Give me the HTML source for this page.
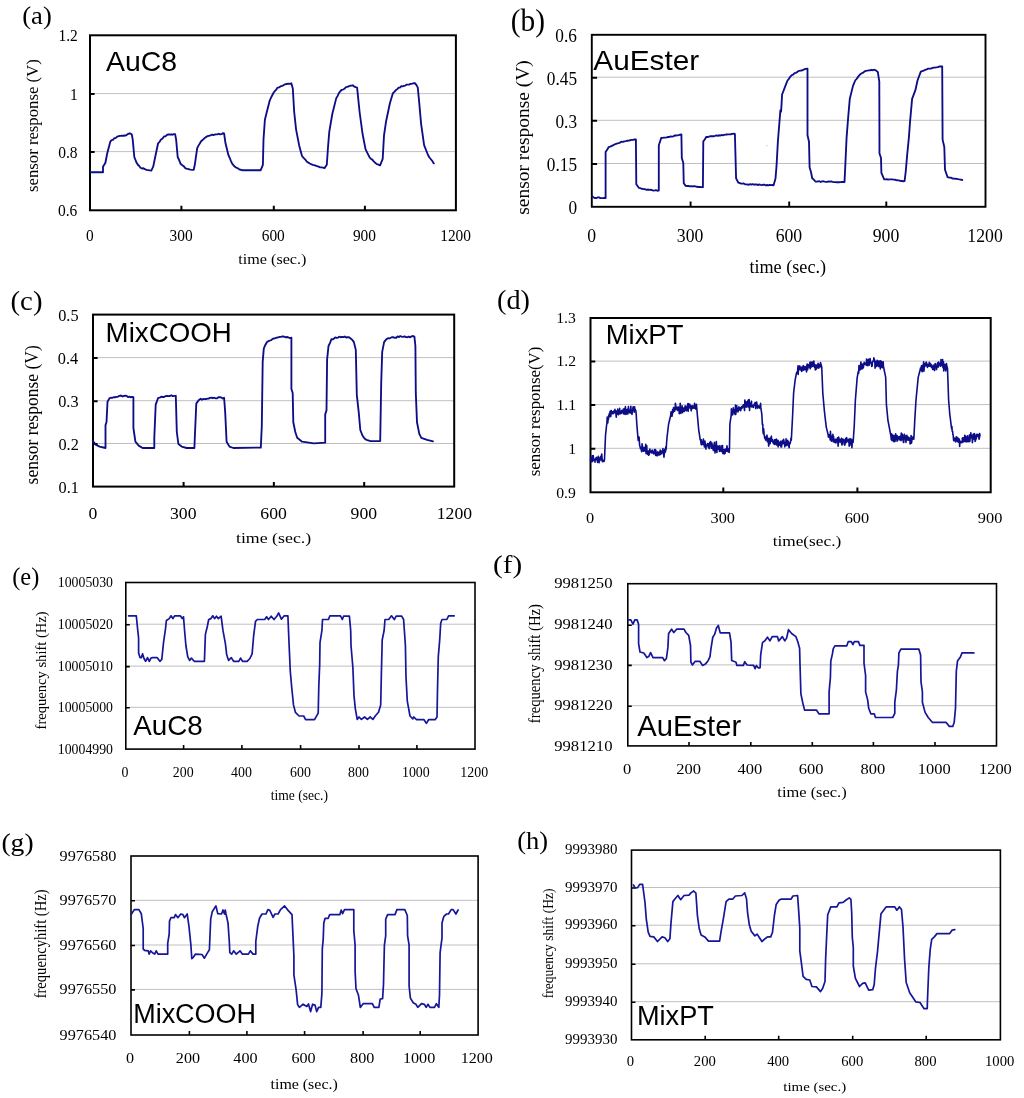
<!DOCTYPE html>
<html><head><meta charset="utf-8"><title>figure</title><style>html,body{margin:0;padding:0;background:#fff;width:1024px;height:1098px;overflow:hidden}svg{display:block}.r{font-family:"Liberation Serif",serif;fill:#000}svg{will-change:transform}.s{font-family:"Liberation Sans",sans-serif;fill:#000}.gr{stroke:#c0c0c0;stroke-width:1;fill:none}.tk{stroke:#000;fill:none}.bx{stroke:#000;fill:none}.ln{fill:none;stroke-linejoin:round;stroke-linecap:round}</style></head><body>
<svg width="1024" height="1098" viewBox="0 0 1024 1098">
<rect width="1024" height="1098" fill="#fff"/>
<path class="gr" d="M90 93.6H455.9"/>
<path class="gr" d="M90 151.6H455.9"/>
<path class="tk" stroke-width="2" d="M90 94.1h4.6M90 152.1h4.6M181.4 210.3v-4.6M273.8 210.3v-4.6M364.9 210.3v-4.6"/>
<rect class="bx" stroke-width="2" x="90" y="35.3" width="365.9" height="175"/>
<path class="ln" stroke="#0d0d88" stroke-width="1.85" d="M90.7 172.2 L103 172.2 L103 166.7 L105.4 162.8 L107.3 153 L110.3 141.7 L111.6 140.23 L112.9 139.85 L114.2 138.4 L115.8 137.86 L117.4 136.56 L119 136 L120.47 135.87 L121.95 135.7 L123.43 135.78 L124.9 135.5 L126.28 135.29 L127.65 134.09 L129.03 133.53 L130.4 133.5 L131.8 134.5 L132.7 139.4 L134.3 157 L136.6 162.8 L137.9 164.77 L139.2 166 L140.5 167.7 L141.97 168.49 L143.45 168.25 L144.93 169.22 L146.4 169.8 L151.3 170.6 L153.2 166.7 L155.2 157 L158.1 143.3 L159.57 141.8 L161.05 139.58 L162.53 138.57 L164 136.4 L165.45 136.33 L166.9 134.98 L168.35 134.5 L169.8 134.5 L171.12 134.44 L172.45 134.74 L173.78 134.08 L175.1 134.1 L176.1 139.4 L177.7 157 L179.15 160.12 L180.6 163.8 L182.23 165.22 L183.87 166.33 L185.5 168.3 L190.4 169.6 L193.7 169.8 L194.8 164.8 L197.2 148.2 L198.5 145.62 L199.8 143.54 L201.1 141.3 L202.57 140.07 L204.05 138.58 L205.53 137.36 L207 136.4 L208.3 135.8 L209.6 135.73 L210.9 135.24 L212.2 134.65 L213.5 135.15 L214.8 134.5 L216.13 134.41 L217.46 134.36 L218.79 133.76 L220.11 134.42 L221.44 134.15 L222.77 133.26 L224.1 133.5 L225.5 143.3 L228.4 155 L229.7 157.77 L231 161.09 L232.3 163.8 L233.63 165.31 L234.97 166.84 L236.3 167.7 L237.75 168.25 L239.2 169.28 L240.65 169.75 L242.1 170.2 L260.7 170.2 L262.9 164.8 L263.5 139.4 L264.9 119.8 L266.8 112 L269.8 100.3 L271.75 96.2 L273.7 92.5 L275 90.95 L276.3 89.62 L277.6 87.6 L279.05 87.37 L280.5 86.46 L281.95 85.96 L283.4 85.3 L285.03 84.3 L286.67 83.98 L288.3 83.7 L289.8 83.8 L291.3 83.3 L292.8 88.6 L294.2 112 L296.1 129.6 L299.1 145.2 L302 156 L303.63 157.85 L305.27 159.54 L306.9 161.8 L308.35 162.6 L309.8 163.5 L311.25 164.22 L312.7 164.8 L314.18 165.15 L315.65 165.69 L317.12 166.23 L318.6 166.7 L320.08 167.33 L321.55 167.42 L323.02 167.64 L324.5 168.1 L326.8 164.8 L328 147.2 L329.3 131.6 L332.3 114 L336.2 98.4 L337.5 96.09 L338.8 93.33 L340.1 91.5 L341.55 89.97 L343 89.55 L344.45 88.76 L345.9 87.2 L347.28 86.91 L348.66 86.33 L350.04 85.73 L351.42 85.68 L352.8 85.3 L354.23 86.55 L355.67 87.1 L357.1 87.6 L359.6 112 L362.5 133.5 L365.5 149.1 L367.45 153.09 L369.4 157 L370.85 158.81 L372.3 159.63 L373.75 161.36 L375.2 162.8 L376.83 164.12 L378.47 164.61 L380.1 165.4 L382.7 158.9 L384 135.5 L386 121.8 L389.9 103.2 L392.8 93.5 L394.27 91.98 L395.75 90.32 L397.23 89.12 L398.7 87.6 L400 87.57 L401.3 86.14 L402.6 86.43 L403.9 85.99 L405.2 85.57 L406.5 84.7 L407.9 84.67 L409.3 84.48 L410.7 83.92 L412.1 83.69 L413.5 83.29 L414.9 83.1 L416.35 84.91 L417.8 87.6 L419.2 102.3 L421.1 123.8 L424.1 145.2 L428 155 L429.45 157.47 L430.9 159.27 L432.35 161 L433.8 163.4"/>
<path class="gr" d="M591.8 77.2H985.5"/>
<path class="gr" d="M591.8 120.3H985.5"/>
<path class="gr" d="M591.8 163.5H985.5"/>
<path class="tk" stroke-width="1.9" d="M591.8 77.7h5.3M591.8 120.8h5.3M591.8 164h5.3M690.6 206.8v-5.3M789.2 206.8v-5.3M886.3 206.8v-5.3"/>
<rect class="bx" stroke-width="1.9" x="591.8" y="34.8" width="393.7" height="172"/>
<path class="ln" stroke="#0d0d88" stroke-width="1.85" d="M592 196 L593.9 197.6 L595.2 198.01 L596.5 198.05 L597.8 197.38 L599.1 197.45 L600.4 198.09 L601.7 198.06 L603 198.05 L604.3 197.8 L605.6 198 L605.6 152.1 L607.1 149.73 L608.6 147.2 L610.2 146.62 L611.8 145.93 L613.4 145.2 L614.72 144.34 L616.03 143.98 L617.35 143.36 L618.67 143.05 L619.98 142.68 L621.3 141.7 L622.84 141.86 L624.38 141.34 L625.92 141.06 L627.46 140.71 L629 140.7 L630.38 140.07 L631.76 139.8 L633.14 139.89 L634.52 139.51 L635.9 139.4 L636.3 184.3 L638.8 187.8 L640.1 188.04 L641.4 188.78 L642.7 188.82 L644 189.18 L645.3 189.26 L646.6 189.8 L647.96 189.5 L649.31 189.82 L650.67 189.74 L652.02 190.12 L653.38 190.59 L654.73 190.41 L656.09 190.09 L657.44 190.74 L658.8 190.5 L658.8 145.2 L661.3 137.8 L662.64 137.88 L663.98 137.67 L665.32 137.65 L666.66 137.37 L668 137 L669.33 136.98 L670.67 136.38 L672 136.63 L673.33 136.37 L674.67 135.48 L676 135.5 L677.35 135.45 L678.7 135.17 L680.05 134.72 L681.4 134.5 L681.8 157.9 L683.3 163 L683.75 183.3 L685.7 185.9 L687.1 185.98 L688.5 186.01 L689.9 186.41 L691.3 186.13 L692.7 186.45 L694.1 186.13 L695.5 186.3 L696.98 186.79 L698.46 186.98 L699.94 186.81 L701.42 187.07 L702.9 187.2 L703.3 141.3 L704.75 139.49 L706.2 137 L707.67 137 L709.13 136.62 L710.6 136.23 L712.07 136.13 L713.53 136.24 L715 135.9 L716.3 135.48 L717.6 135.92 L718.9 135.25 L720.2 135.61 L721.5 134.97 L722.8 135.33 L724.1 134.98 L725.4 134.66 L726.7 134.5 L728.07 134.41 L729.43 134.42 L730.8 134.27 L732.17 133.95 L733.53 133.77 L734.9 133.9 L736.1 178.4 L738.4 182.7 L739.72 182.98 L741.03 183.58 L742.35 183.6 L743.67 183.43 L744.98 184.29 L746.3 184.3 L747.6 184.53 L748.9 184.72 L750.2 184.2 L751.5 184.69 L752.8 184.19 L754.1 184.71 L755.4 184.45 L756.7 184.46 L758 185.03 L759.3 184.46 L760.6 184.84 L761.9 185.15 L763.2 184.71 L764.5 184.74 L765.8 185.32 L767.1 185 L768.4 185.28 L769.7 184.78 L771 185.09 L772.3 184.99 L773.6 185.3 L775.5 178.4 L776.5 166.7 L777.9 141.3 L780.4 110.1 L781.1 111.6 L782.1 94.5 L785.4 85.9 L787.5 80.5 L788.93 78.84 L790.37 76.57 L791.8 75.1 L793.15 74.66 L794.5 73.12 L795.85 72.88 L797.2 71.9 L798.8 70.97 L800.4 70.6 L802 70.5 L803.6 69.7 L805.55 68.93 L807.5 68.7 L807.5 135.3 L809 141.7 L809.6 167.5 L811 172 L812.2 178.2 L813.8 179.6 L815.4 181.5 L816.72 181.68 L818.05 181.46 L819.37 181.22 L820.69 182 L822.01 181.36 L823.34 181.29 L824.66 181.57 L825.98 181.81 L827.3 181.94 L828.63 181.46 L829.95 181.67 L831.27 181.45 L832.6 181.81 L833.92 182.09 L835.24 182.1 L836.56 182.26 L837.89 182.17 L839.21 182.28 L840.53 182.18 L841.85 182.02 L843.18 181.85 L844.5 182.1 L845.1 169.7 L846.6 137.4 L848.3 115.9 L849.8 98.8 L853 85.9 L855.2 80.5 L856.55 79 L857.9 77.1 L859.25 75.31 L860.6 74 L861.92 73.16 L863.25 72.7 L864.58 71.3 L865.9 70.8 L867.33 70.68 L868.77 70.35 L870.2 70.26 L871.63 69.78 L873.07 70.25 L874.5 69.7 L876.15 70.61 L877.8 71.9 L879.3 81.6 L879.5 153.5 L881 158 L881.4 172.9 L882.8 176.18 L884.2 179.3 L885.51 179.31 L886.82 179.07 L888.13 179.58 L889.44 179.32 L890.76 179.33 L892.07 179.39 L893.38 179.57 L894.69 179.6 L896 180 L897.43 180.27 L898.87 180.34 L900.3 180.89 L901.73 181.01 L903.17 181.23 L904.6 181 L905.7 171.8 L907.2 154.6 L908.9 137.4 L910 122.4 L912.1 98.8 L915.4 90.2 L917.5 80.5 L920.7 71.9 L922.2 71.05 L923.7 70.58 L925.2 69.78 L926.7 69.41 L928.2 68.7 L929.5 68.58 L930.8 68.5 L932.1 68.21 L933.4 67.63 L934.7 67.6 L936.2 67.32 L937.7 67.18 L939.2 66.54 L940.7 66.35 L942.2 66.5 L942.6 139.6 L944.3 147 L945 169.7 L947.6 177.2 L949.2 177.5 L950.8 177.64 L952.4 178.5 L954 178.7 L955.37 178.71 L956.73 178.81 L958.1 179.1 L959.47 179.35 L960.83 179.56 L962.2 180"/>
<path class="gr" d="M93 357.6H454.2"/>
<path class="gr" d="M93 400.7H454.2"/>
<path class="gr" d="M93 443.5H454.2"/>
<path class="tk" stroke-width="2" d="M93 358.1h4.6M93 401.2h4.6M93 444h4.6M183.6 486.6v-4.6M273.85 486.6v-4.6M364.2 486.6v-4.6"/>
<rect class="bx" stroke-width="2" x="93" y="314.6" width="361.2" height="172"/>
<path class="ln" stroke="#0d0d88" stroke-width="1.85" d="M92.8 440.7 L95.7 444.6 L99.6 446.6 L105.5 448 L105.5 425.1 L106.5 422.2 L107.5 401.7 L109.4 398.4 L110.78 397.71 L112.16 397.82 L113.54 397.26 L114.92 397.27 L116.3 396.8 L117.84 396.78 L119.38 395.79 L120.92 395.52 L122.46 396.47 L124 395.8 L125.34 395.66 L126.69 395.83 L128.03 397.09 L129.37 396.56 L130.71 397.27 L132.06 396.97 L133.4 397.2 L133.4 428 L135.4 441.7 L138.7 445.6 L142.6 448 L154.3 448 L154.3 437.8 L155.7 404.6 L158.2 397.8 L159.67 397.66 L161.13 396.64 L162.6 396.99 L164.07 396.98 L165.53 396.17 L167 395.8 L168.47 396.14 L169.93 396.04 L171.4 395.19 L172.87 396.16 L174.33 395.93 L175.8 395.8 L176.8 432 L178.4 444 L181.7 446.6 L186.6 448 L194.4 448 L194.8 437.8 L196.3 403.6 L197.8 401.37 L199.3 399.7 L200.64 398.81 L201.98 399.74 L203.31 398.95 L204.65 399.06 L205.99 399.04 L207.32 398.57 L208.66 398.63 L210 397.8 L211.41 397.65 L212.82 398.22 L214.23 397.72 L215.64 398.41 L217.05 398.33 L218.46 397.24 L219.87 397.29 L221.28 397.4 L222.69 398.45 L224.1 397.8 L225.2 412.4 L226.6 441.7 L229.5 446.6 L233.4 448 L260.8 447.6 L261.8 426.1 L262.7 361.6 L263.8 348.6 L265 345.5 L267 342 L268.5 341.16 L270 340.5 L271.33 340.01 L272.67 338.89 L274 338.5 L275.33 338.18 L276.67 337.67 L278 337.5 L279.53 336.89 L281.07 336.82 L282.6 336.3 L284.07 336.65 L285.53 337.33 L287 337 L288.47 337.49 L289.93 338.07 L291.4 337.7 L291.4 389 L292.7 393 L293.3 422.2 L295.3 432 L297.2 437.8 L302.1 441.7 L313.8 443.3 L325.2 442.7 L325.2 414.4 L326.5 410.4 L327.1 359.7 L328.5 346 L329.95 343.1 L331.4 339.2 L332.7 339.45 L334 338.57 L335.3 337.43 L336.6 337.97 L337.9 337.68 L339.2 336.6 L340.6 337.25 L342 336.87 L343.4 337.16 L344.8 336.54 L346.2 337.49 L347.6 337.22 L349 337.2 L350.63 338.53 L352.27 339.86 L353.9 342.1 L355.8 349.9 L356.8 394.8 L358.75 412.4 L360.3 430 L362.6 435.8 L363.93 437.63 L365.27 439.15 L366.6 439.8 L370.5 441.1 L380.2 441.1 L381.2 383.1 L382.2 351.9 L384.1 342.1 L386.05 339.57 L388 338.2 L389.37 338.46 L390.74 337.75 L392.11 337.23 L393.48 337.27 L394.85 337.78 L396.22 337.76 L397.59 336.44 L398.96 337.08 L400.33 336.12 L401.7 336.6 L403.11 336.91 L404.52 336.36 L405.93 337.13 L407.34 337.27 L408.76 336.61 L410.17 337.3 L411.58 336.33 L412.99 336.01 L414.4 336.6 L415.4 346 L415.8 392.9 L417 422.2 L419.3 433.9 L421.3 437.8 L427.1 439.8 L433 441.3"/>
<path class="gr" d="M590.5 361.1H990.7"/>
<path class="gr" d="M590.5 404.6H990.7"/>
<path class="gr" d="M590.5 448.3H990.7"/>
<path class="tk" stroke-width="2" d="M590.5 361.6h4.8M590.5 405.1h4.8M590.5 448.8h4.8M723.3 492.3v-4.8M857.4 492.3v-4.8"/>
<rect class="bx" stroke-width="2" x="590.5" y="318" width="400.2" height="174.3"/>
<path class="ln" stroke="#0d0d88" stroke-width="1.6" d="M590.53 458.94 L590.72 460.63 L591.02 457.45 L591.41 459.03 L591.63 461.78 L591.94 460.05 L592.25 455.83 L592.58 461.38 L592.95 455.78 L593.22 455.66 L593.62 460.17 L593.81 459.4 L594.11 460.18 L594.52 460.37 L594.79 460.72 L595.04 462.13 L595.28 458.74 L595.62 459.27 L595.94 458.52 L596.3 457.39 L596.65 457.72 L596.93 460.04 L597.2 459.61 L597.58 462.37 L597.9 459.27 L598.03 457.7 L598.34 456.28 L598.72 461.32 L599.07 462.67 L599.34 460.3 L599.67 460.85 L599.95 458.15 L600.31 457.37 L600.63 458.33 L600.76 456.29 L601.19 460.03 L601.52 455.32 L601.72 453.96 L601.97 457.04 L602.36 461.65 L602.59 460.04 L603.03 460.46 L603.26 460.64 L603.66 460.71 L603.9 461.6 L604.27 460.67 L604.5 459.5 L604.83 451.57 L605.17 443.63 L605.5 435.7 L605.85 432.27 L606.2 428.85 L606.55 425.43 L606.86 423.85 L607.2 417.17 L607.62 417.42 L607.77 422.99 L608.1 419.31 L608.46 419.18 L608.68 415.44 L609.07 415.14 L609.49 413.26 L609.77 416.8 L610.1 411.2 L610.31 413.45 L610.81 416.36 L611.13 410.52 L611.32 410.57 L611.73 413.65 L611.95 412.99 L612.24 412.51 L612.51 411.77 L612.85 412.74 L613.13 413.77 L613.6 413.3 L613.78 411.08 L614.1 411.17 L614.5 411.21 L614.84 412.77 L614.96 409.41 L615.27 412.39 L615.71 410.87 L615.88 413.22 L616.26 417.09 L616.49 412.5 L616.87 411.18 L617.26 411.51 L617.42 413.83 L617.75 409.01 L618.08 413.42 L618.44 414.79 L618.75 410.72 L619.08 412.81 L619.35 413.8 L619.64 408.18 L619.87 411.72 L620.11 413.93 L620.46 413.03 L620.85 411.57 L621.2 413.54 L621.51 410.57 L621.66 413.21 L621.97 410.59 L622.35 411.64 L622.71 412.54 L622.97 412.47 L623.3 408.97 L623.63 413.86 L623.91 412.69 L624.09 411.03 L624.52 408.5 L624.86 409.03 L625.05 414.4 L625.42 406.61 L625.61 414.02 L626.06 411.78 L626.34 411.79 L626.68 413.36 L626.92 414.11 L627.12 409.18 L627.4 413.04 L627.81 413.91 L628.2 410.18 L628.48 406.66 L628.66 412.52 L628.97 410.67 L629.34 412.51 L629.56 410.52 L630.02 412.92 L630.25 409.13 L630.62 412.53 L630.85 406.25 L631.16 412.9 L631.44 410.11 L631.69 410.45 L632 414.43 L632.36 410.56 L632.64 410.01 L632.98 407.65 L633.2 406.78 L633.6 409.07 L633.94 410.38 L634.19 412.11 L634.58 406.88 L634.79 408.89 L635.15 409.29 L635.54 410.55 L635.85 410.63 L636.2 414.2 L636.8 424 L637.12 427.9 L637.45 431.8 L637.77 435.7 L638.19 440.4 L638.51 439.04 L638.7 437.03 L639.14 437.24 L639.33 441.07 L639.64 445.57 L640 446.34 L640.43 448.48 L640.78 447.85 L641.05 448.71 L641.27 449.95 L641.61 451.67 L642.08 443.87 L642.41 446.03 L642.7 449.92 L642.96 449.97 L643.25 451.05 L643.64 450.04 L643.82 451.29 L644.13 447.32 L644.5 448.84 L644.76 447.83 L645.26 447.93 L645.39 451.26 L645.74 444.23 L646.05 453.71 L646.33 451.03 L646.78 445.88 L646.98 452.51 L647.36 453.23 L647.7 454.37 L648.01 451.1 L648.27 450.94 L648.62 455.28 L648.96 452.97 L649.13 454.51 L649.6 453.02 L649.85 449 L650.24 451.57 L650.47 450.94 L650.72 452.3 L651 452.23 L651.34 452.13 L651.76 450.63 L651.97 453.13 L652.28 450.06 L652.52 451.48 L652.97 451.52 L653.24 451.95 L653.62 452.54 L653.76 453.97 L654.14 452.68 L654.51 449.62 L654.79 449.74 L655.15 453.46 L655.4 449.59 L655.69 455.39 L655.88 450.29 L656.2 453.16 L656.53 455.32 L656.81 453.65 L657.26 455.78 L657.52 454.33 L657.75 451.91 L658.09 453.88 L658.35 453.63 L658.8 454.36 L658.96 455.14 L659.41 451.98 L659.52 451.74 L659.9 454.47 L660.17 450.02 L660.53 453.05 L660.76 454.4 L661.12 452.78 L661.41 453.22 L661.7 452.93 L662.11 450.54 L662.39 451.52 L662.64 451.99 L662.93 448.57 L663.32 454.28 L663.61 452.96 L663.96 457.14 L664.21 454.3 L664.42 452.8 L664.8 449.25 L665.16 449.13 L665.5 451.89 L665.8 446.68 L666.1 449.4 L666.55 443.55 L667 437.7 L667.32 434.96 L667.64 432.22 L667.96 429.48 L668.28 426.74 L668.6 424 L668.94 422.6 L669.29 421.2 L669.63 419.8 L669.97 418.4 L670.31 417 L670.66 415.6 L671.04 411.86 L671.24 413.86 L671.61 413.93 L671.96 416.28 L672.29 415.13 L672.58 409.83 L672.8 409.38 L673.22 412.42 L673.54 407.44 L673.9 410.09 L674.12 409.43 L674.53 411.25 L674.74 410.08 L675.1 408.87 L675.38 403.22 L675.76 405.84 L676.03 409.54 L676.24 408.51 L676.57 408.32 L676.93 408.88 L677.12 407.04 L677.56 410.48 L677.86 409.46 L678.13 407.94 L678.42 407.09 L678.81 407.59 L678.98 408.85 L679.24 413.68 L679.63 407.81 L679.93 410.93 L680.2 403.2 L680.49 409.7 L680.87 413.47 L681.24 409.96 L681.38 410.31 L681.84 409.3 L682.1 405.76 L682.36 408.63 L682.57 412.7 L682.96 410.54 L683.23 407.99 L683.54 409.17 L683.94 409.4 L684.25 411.46 L684.41 407.78 L684.86 410.8 L685.05 406.09 L685.49 406.07 L685.71 409.13 L685.95 406.01 L686.21 409.23 L686.56 410.75 L686.99 409.89 L687.21 407.41 L687.46 409.13 L687.9 403.55 L688.19 411.33 L688.52 404.09 L688.75 403.83 L689.09 407.27 L689.34 406.71 L689.62 407.45 L689.88 404.24 L690.27 408.43 L690.55 406.89 L690.98 406.33 L691.14 410.84 L691.51 406.36 L691.78 405.85 L692.05 408.05 L692.5 408.53 L692.8 405.85 L693.13 407.43 L693.27 406.25 L693.56 407.77 L693.89 406.87 L694.2 408.21 L694.61 403.24 L694.85 405.45 L695.15 405.1 L695.44 408.78 L695.88 409.04 L696.01 408.07 L696.47 404.3 L696.7 407.4 L697.3 414.2 L697.65 418.1 L698 422 L698.35 425.9 L698.7 429.8 L699 431.76 L699.3 433.72 L699.6 435.68 L699.9 437.64 L700.14 439.53 L700.5 439.71 L700.84 441.9 L701.25 444.67 L701.4 439.68 L701.9 444.61 L702.14 442.25 L702.45 441.84 L702.89 442.18 L703.22 444.5 L703.4 439 L703.78 444.16 L704.14 444.31 L704.43 446.9 L704.76 442.46 L704.92 441.15 L705.37 444.68 L705.65 444.6 L705.88 449.08 L706.25 445.44 L706.57 445.6 L706.84 445.14 L707.16 445.16 L707.46 443.53 L707.65 445.85 L708.14 444.17 L708.38 447.38 L708.6 447.03 L708.91 443.62 L709.23 448.73 L709.47 444.67 L709.86 442.32 L710.13 445.77 L710.43 443.36 L710.69 441.6 L711.12 444.86 L711.33 448.13 L711.7 447.34 L711.94 442.95 L712.38 448.35 L712.57 446.2 L712.89 447.3 L713.34 450.38 L713.5 445.38 L713.86 446.92 L714.11 444.24 L714.47 442.42 L714.74 448.49 L715.03 452.99 L715.51 449.32 L715.82 448.17 L716.14 446.61 L716.33 441.52 L716.73 449.63 L716.9 452.42 L717.28 446.66 L717.58 446 L717.88 448 L718.21 448.15 L718.64 449.17 L718.81 447.85 L719.24 445.7 L719.47 451.52 L719.77 450.77 L720.19 449.37 L720.49 449.55 L720.63 450.98 L721.08 445.82 L721.24 451.57 L721.73 450.41 L721.9 450.02 L722.22 449.98 L722.52 445.56 L722.82 453.41 L723.22 449.88 L723.39 450.17 L723.84 452.71 L724.19 454 L724.32 449.51 L724.83 451.09 L725.14 453.1 L725.36 449.12 L725.69 451.25 L726.07 451.18 L726.37 449.08 L726.66 451.14 L726.92 445.84 L727.33 448.12 L727.51 450.67 L727.86 449.74 L728.14 451.8 L728.51 450.82 L728.96 448.45 L729.14 452.49 L729.5 447.4 L729.9 424 L730.22 421.84 L730.54 419.68 L730.86 417.52 L731.18 415.36 L731.42 408.83 L731.85 415.12 L732.1 414.26 L732.44 412.81 L732.76 414.65 L733.06 412.12 L733.26 407.71 L733.65 412.75 L733.92 410.01 L734.2 411.24 L734.5 409.69 L734.87 413.55 L735.13 414.49 L735.47 405.07 L735.72 414.5 L736.18 411.27 L736.3 406.93 L736.76 405.69 L737.08 410.15 L737.22 411.08 L737.54 409.61 L737.99 411.87 L738.19 408.36 L738.47 410.3 L738.87 406.76 L739.14 409.38 L739.45 407.9 L739.66 408.53 L739.98 410.02 L740.37 407.71 L740.58 410.62 L740.98 409.45 L741.19 407.49 L741.61 406.63 L741.87 408.42 L742.14 407.84 L742.48 407.14 L742.7 405.98 L743.11 405.71 L743.34 404.79 L743.77 407.11 L743.96 404.91 L744.27 408.48 L744.57 410.58 L744.84 399.96 L745.1 405.2 L745.59 403.89 L745.81 401.71 L746.21 407.17 L746.35 403.98 L746.77 405.54 L746.99 402.12 L747.41 401.42 L747.63 403.32 L747.96 406.97 L748.24 400.07 L748.63 404.34 L748.88 406.91 L749.18 399.53 L749.56 410.51 L749.79 402.76 L750.27 406.77 L750.53 403.81 L750.87 405.34 L751.07 403.56 L751.51 401.17 L751.69 407.05 L752.07 405.05 L752.35 406.75 L752.73 405.72 L753.08 405.66 L753.36 407.35 L753.53 405.45 L753.96 405.43 L754.26 404.03 L754.54 403.77 L754.89 403.85 L755.17 402.43 L755.48 406.88 L755.81 408.57 L756.07 406.11 L756.42 406.1 L756.68 402.08 L756.98 404.98 L757.35 406.3 L757.68 408.23 L757.9 407.65 L758.35 405.88 L758.67 405.9 L758.93 405.97 L759.22 406.77 L759.62 408.07 L759.96 406.69 L760.11 406.71 L760.58 403.27 L760.8 407.4 L761.13 409.67 L761.47 411.93 L761.8 414.2 L762.1 419.4 L762.4 424.6 L762.78 424.3 L762.97 431.4 L763.28 433.65 L763.67 428.82 L764.11 435.12 L764.32 435.09 L764.7 438.19 L765.11 436.82 L765.35 438.63 L765.64 440.08 L765.93 440.02 L766.41 439.23 L766.58 437.15 L767.03 435.17 L767.33 441.66 L767.6 441.67 L767.97 442.07 L768.35 438.35 L768.63 446.08 L768.89 444.88 L769.31 441.21 L769.54 439.1 L769.82 438.41 L770.07 443.73 L770.51 440.87 L770.71 440.26 L771.08 436.94 L771.4 436.19 L771.59 441.05 L771.92 441.27 L772.3 439.45 L772.68 439.69 L772.94 442.37 L773.12 442.52 L773.45 443.46 L773.81 441.48 L774.16 441.97 L774.39 444.42 L774.68 439.82 L775.15 439.9 L775.29 441.75 L775.71 443 L775.97 444.45 L776.25 439.07 L776.62 445.06 L776.88 442.18 L777.31 440.55 L777.58 440.16 L777.75 442.14 L778.15 446.91 L778.36 440.85 L778.82 443.15 L779.16 445.08 L779.3 442.57 L779.69 443.34 L780.02 445.31 L780.26 443.03 L780.56 441.32 L780.96 447.06 L781.25 444.12 L781.56 447.06 L781.81 443.07 L782.07 442.85 L782.35 440.64 L782.69 443.2 L783.08 443.83 L783.38 441.86 L783.59 439.37 L784 441.23 L784.25 442.75 L784.64 443.31 L784.8 446.83 L785.11 444.05 L785.41 443.58 L785.81 443.72 L786.03 438.72 L786.32 445.52 L786.75 442.82 L787.01 441.94 L787.38 441.85 L787.62 440.27 L787.96 445.28 L788.2 441.3 L788.45 446 L788.71 445.45 L789.18 447.78 L789.34 444.47 L789.81 443.92 L789.95 442.19 L790.27 443.24 L790.71 440.49 L791.03 438.02 L791.3 440.3 L791.6 434.68 L791.9 429.05 L792.2 423.43 L792.5 417.8 L792.87 409.57 L793.23 401.33 L793.6 393.1 L793.92 390.4 L794.24 387.7 L794.56 385 L794.88 382.3 L795.2 379.6 L795.56 377.8 L795.92 376 L796.28 374.2 L796.64 372.4 L796.97 373.29 L797.38 371.59 L797.54 372.19 L798.02 365.84 L798.18 374.4 L798.51 366.96 L798.96 369.93 L799.26 369.68 L799.54 366.38 L799.79 365.86 L800.19 369.55 L800.4 369.14 L800.68 367.4 L801.04 370.28 L801.37 367.29 L801.67 371.34 L802.08 370.38 L802.34 367.17 L802.61 369.9 L802.98 368.03 L803.24 365.55 L803.48 370.25 L803.91 367.97 L804.08 366.54 L804.51 368.67 L804.86 367.12 L805.06 369.58 L805.43 367.02 L805.65 367.89 L806.05 369.14 L806.24 366.35 L806.53 371.89 L806.82 365.73 L807.23 364 L807.55 369.76 L807.87 368.18 L808.1 364.78 L808.4 364.65 L808.81 366.78 L808.94 365.38 L809.42 366.36 L809.65 367.47 L809.9 362.41 L810.25 368.79 L810.61 361.95 L810.9 364.76 L811.1 364.27 L811.55 366.92 L811.72 363.34 L812.08 362.08 L812.32 365.51 L812.69 362.14 L812.94 366.26 L813.26 364.01 L813.53 363.89 L813.83 361.1 L814.2 365.23 L814.43 367.2 L814.9 364.61 L815.15 366.58 L815.32 369.88 L815.68 368.76 L816.05 369.34 L816.29 365.08 L816.52 366.56 L816.84 368.52 L817.18 365.16 L817.56 366.01 L817.83 364.78 L818.09 363.29 L818.38 367.64 L818.75 368.13 L819.01 367.79 L819.35 364.61 L819.64 364.53 L819.98 366.71 L820.27 366.51 L820.54 362.66 L820.76 364.56 L821.13 364.24 L821.46 368.03 L821.7 366.2 L822.07 375.17 L822.43 384.13 L822.8 393.1 L823.12 396.7 L823.44 400.3 L823.76 403.9 L824.08 407.5 L824.4 411.1 L824.7 413.72 L825 416.33 L825.3 418.95 L825.6 421.57 L825.9 424.18 L826.2 426.8 L826.51 428.09 L826.83 429.37 L827.14 430.66 L827.46 431.94 L827.77 433.23 L828.09 434.51 L828.44 437.12 L828.69 434.86 L829 435 L829.35 434.78 L829.7 435.06 L829.98 438.13 L830.21 439.96 L830.44 431.28 L830.85 437.82 L831.23 439.68 L831.45 441.1 L831.76 440.37 L832.1 439.96 L832.42 435.33 L832.67 438.42 L832.91 434.35 L833.31 441.93 L833.5 436.37 L833.98 441.82 L834.14 439.22 L834.47 440.48 L834.78 442.38 L835.14 440.49 L835.34 439.3 L835.75 441.76 L835.94 442.91 L836.36 439.45 L836.53 439.3 L836.96 441.47 L837.19 441.7 L837.51 437.69 L837.77 441.48 L838.13 446.27 L838.39 442.4 L838.66 437.06 L839.07 439.69 L839.27 440.47 L839.58 441.88 L839.85 439.49 L840.1 439.66 L840.54 441.59 L840.76 440.68 L841.1 442.65 L841.43 438.25 L841.67 442.47 L841.91 445.04 L842.37 439.31 L842.53 444.41 L842.97 439.1 L843.1 441.03 L843.59 441.04 L843.72 440.43 L844.03 440.01 L844.37 441.83 L844.63 445.26 L844.93 444.72 L845.38 439.34 L845.63 438.6 L845.98 439.21 L846.14 442.65 L846.54 437.61 L846.79 438.18 L847.18 441.07 L847.35 440.18 L847.63 441.26 L847.99 441.11 L848.23 441.95 L848.61 439.37 L848.97 442.13 L849.19 446.24 L849.51 442.24 L849.77 439.96 L850.08 438.5 L850.43 443.01 L850.73 441.99 L851.04 445.21 L851.39 442.82 L851.6 439.3 L851.9 447.8 L852.24 442.85 L852.53 442.08 L852.77 440.15 L853.1 442.5 L853.47 437.27 L853.83 432.03 L854.2 426.8 L854.6 417.8 L855 408.8 L855.4 399.8 L855.7 396.07 L856 392.33 L856.3 388.6 L856.6 384.87 L856.9 381.13 L857.2 377.4 L857.5 375.82 L857.8 374.24 L858.1 372.66 L858.4 371.08 L858.69 373.22 L858.95 365.56 L859.29 368.47 L859.68 366.38 L859.87 369.95 L860.22 369.47 L860.48 366.23 L860.86 362.02 L861.19 367.54 L861.39 366.63 L861.76 369.02 L861.95 364.58 L862.39 364.03 L862.56 368.78 L862.91 364.67 L863.34 367.7 L863.58 366.11 L863.95 363.72 L864.19 362.37 L864.51 363.11 L864.8 363.12 L865.11 364.34 L865.38 363.38 L865.62 364.63 L865.9 363.32 L866.33 364.86 L866.57 359.08 L866.92 365.5 L867.16 360.23 L867.48 362.86 L867.8 365.68 L868.03 360.18 L868.44 359.31 L868.79 364.27 L869.05 363.37 L869.24 365.09 L869.62 361.73 L870.05 358.46 L870.25 359.87 L870.59 361.73 L870.81 363.03 L871.07 362.63 L871.51 362.62 L871.69 366.34 L872.16 366.07 L872.43 362.29 L872.64 362.2 L872.91 361.65 L873.35 360.29 L873.65 360.85 L873.83 357.76 L874.21 359.72 L874.61 359.75 L874.87 362.24 L875.04 368.2 L875.51 365.83 L875.66 363.09 L875.99 361.6 L876.43 366.36 L876.64 362.43 L876.99 363.4 L877.21 360.41 L877.64 364.85 L877.92 361.68 L878.18 366.28 L878.59 361.11 L878.87 366.7 L879.03 362.62 L879.52 363.68 L879.69 363.37 L880.05 360.75 L880.36 368.95 L880.61 364.39 L880.93 360.96 L881.29 367.24 L881.63 361.63 L881.83 362.72 L882.16 367.37 L882.5 365.81 L882.7 367.78 L883.16 361.86 L883.4 366.2 L883.73 367.8 L884.06 369.4 L884.39 371 L884.71 372.6 L885.04 374.2 L885.37 375.8 L885.7 377.4 L886.05 390.85 L886.4 404.3 L886.7 407.46 L887 410.62 L887.3 413.78 L887.6 416.94 L887.9 420.1 L888.21 421.73 L888.52 423.35 L888.83 424.98 L889.14 426.61 L889.45 428.24 L889.75 429.86 L890.06 431.49 L890.37 433.12 L890.68 434.75 L890.99 436.37 L891.31 439.67 L891.56 433.91 L891.95 440.37 L892.3 434.79 L892.53 437.47 L892.88 438.76 L893.21 439.12 L893.38 441.49 L893.73 435.41 L893.98 435.94 L894.4 437.89 L894.64 441.67 L895.01 441.4 L895.21 440.09 L895.64 433.88 L895.87 435.75 L896.11 435.1 L896.42 438.43 L896.75 439.44 L897.1 441.1 L897.32 435.83 L897.6 439.53 L897.92 440.13 L898.33 437.98 L898.63 438.34 L898.88 436.82 L899.12 437.65 L899.62 438.06 L899.84 439.83 L900.08 436.27 L900.52 438.61 L900.79 435.93 L900.99 440.6 L901.25 433.11 L901.56 438.7 L901.86 439.62 L902.25 434.16 L902.65 436.78 L902.88 439.05 L903.14 437.96 L903.42 442.48 L903.79 442.25 L904.11 434.97 L904.36 434.23 L904.78 437.28 L905.09 438.94 L905.24 438.66 L905.57 439.18 L905.97 442.51 L906.11 435.89 L906.54 439.43 L906.91 435.3 L907.17 439.85 L907.51 439.14 L907.74 437.92 L908.08 437.1 L908.28 440.32 L908.56 440 L908.89 437.5 L909.17 439.01 L909.59 438.72 L909.79 438.59 L910.1 443.84 L910.54 440.08 L910.69 442.06 L911.05 435.57 L911.44 443.16 L911.7 441.93 L912.04 437.15 L912.28 439.68 L912.53 438.26 L912.8 438.25 L913.12 438.52 L913.57 436.46 L913.8 439.2 L914.17 432.07 L914.53 424.93 L914.9 417.8 L915.27 411.87 L915.63 405.93 L916 400 L916.31 396.77 L916.63 393.54 L916.94 390.31 L917.26 387.09 L917.57 383.86 L917.89 380.63 L918.2 377.4 L918.53 376.11 L918.86 374.83 L919.19 373.54 L919.51 372.26 L919.84 370.97 L920.17 369.69 L920.43 368.17 L920.76 370.45 L921.04 369.05 L921.41 366.11 L921.64 365.61 L922.12 371.7 L922.36 371.55 L922.57 368.6 L922.89 364.98 L923.18 366.81 L923.65 361.91 L923.94 371.24 L924.23 367.43 L924.37 366.79 L924.86 365.27 L924.97 363.52 L925.3 365.83 L925.58 363.04 L925.92 366.05 L926.27 362.17 L926.61 365.62 L926.82 363.29 L927.24 365.5 L927.44 367.48 L927.83 365.05 L928.11 364.84 L928.44 364.33 L928.77 366.19 L928.97 365.98 L929.25 362.35 L929.69 364.96 L929.86 363.13 L930.32 366.27 L930.63 363.85 L930.95 365.47 L931.16 366.04 L931.41 367.39 L931.85 365.1 L932.06 365.63 L932.41 367.65 L932.68 369.5 L933 367.08 L933.37 369.4 L933.69 369.15 L933.9 365.13 L934.28 369.63 L934.63 370.52 L934.85 367.93 L935.16 363.44 L935.37 365.78 L935.71 367.42 L936 365.44 L936.29 365.62 L936.62 369.57 L936.91 364.93 L937.33 363.89 L937.66 362.77 L937.85 363.78 L938.15 367.28 L938.47 362.21 L938.81 362.05 L939.08 364.62 L939.49 363.41 L939.85 364.94 L940.13 365.87 L940.32 366.32 L940.68 366.28 L940.99 359.5 L941.3 365.74 L941.72 362.24 L941.88 365.05 L942.21 362.95 L942.62 359.43 L942.95 367.77 L943.08 367.23 L943.49 361.82 L943.74 370.9 L944.08 364.81 L944.42 364.95 L944.63 365.01 L944.93 364.38 L945.26 368.03 L945.73 370.91 L945.98 366.66 L946.34 369.24 L946.48 363.53 L946.92 366.9 L947.15 366.85 L947.5 368.4 L947.87 378.87 L948.23 389.33 L948.6 399.8 L948.97 404.3 L949.33 408.8 L949.7 413.3 L950.01 415.87 L950.33 418.44 L950.64 421.01 L950.96 423.59 L951.27 426.16 L951.59 428.73 L951.92 426.48 L952.18 431.12 L952.65 431.23 L952.84 434.39 L953.14 434.73 L953.56 439.93 L953.83 440.61 L954.19 438.48 L954.42 438.05 L954.73 439.08 L955.06 438.81 L955.35 441.66 L955.77 441.92 L956.02 441.09 L956.24 436.83 L956.64 438.43 L956.92 437.17 L957.19 440.61 L957.44 439.4 L957.8 441.6 L958 437.98 L958.37 442.18 L958.71 441.35 L959 439.13 L959.26 439.03 L959.65 446.52 L959.97 441.04 L960.19 441.35 L960.49 442.76 L960.85 441.64 L961.19 442.1 L961.45 441.96 L961.67 442.16 L962.04 442.75 L962.36 437.99 L962.6 438.39 L962.95 441.07 L963.2 437.78 L963.59 442.05 L963.74 437.82 L964.17 441.24 L964.44 440.84 L964.74 435.25 L965.02 440.86 L965.36 441.63 L965.62 436.22 L965.99 438.16 L966.21 441.1 L966.54 438.11 L966.83 441.95 L967.17 441.06 L967.47 435.81 L967.71 440.63 L968.1 441.49 L968.48 438.85 L968.66 439.1 L969.1 441.79 L969.25 435.87 L969.52 434.93 L969.83 441.32 L970.31 436.69 L970.59 437.93 L970.84 432.85 L971.15 436.87 L971.42 437.79 L971.77 436.54 L972.09 435.27 L972.37 442.65 L972.65 439.98 L972.99 439.38 L973.37 433.99 L973.58 435.91 L973.99 434.97 L974.17 438.87 L974.44 433.66 L974.77 436.77 L975.12 441.51 L975.34 436.77 L975.79 439.88 L976.13 435.05 L976.27 438.78 L976.6 435.43 L976.88 434.22 L977.19 436.53 L977.53 434.57 L977.96 434.33 L978.15 435.99 L978.53 435.82 L978.68 435.03 L979.04 439.26 L979.42 437.6 L979.63 433.46 L980 435.8"/>
<path class="gr" d="M125.8 624.2H475"/>
<path class="gr" d="M125.8 666.1H475"/>
<path class="gr" d="M125.8 707.3H475"/>
<path class="tk" stroke-width="1.6" d="M125.8 624.7h4M125.8 666.6h4M125.8 707.8h4M183.6 749.1v-4M241.9 749.1v-4M300.6 749.1v-4M359 749.1v-4M416.9 749.1v-4"/>
<rect class="bx" stroke-width="1.6" x="125.8" y="582.5" width="349.2" height="166.6"/>
<path class="ln" stroke="#16169a" stroke-width="1.7" d="M128.6 615.8 L136.3 615.8 L137.6 628.8 L138.6 638.1 L138.6 652.9 L140 657.6 L141.3 657.6 L142.6 653.9 L144 658.5 L145.6 661.3 L147.5 657.6 L149.3 661.3 L151 658 L152.5 657.6 L157.1 657.6 L159.9 661.3 L161.8 659.4 L163.6 641.8 L165.5 628.8 L166.4 620.5 L169.2 618.6 L171 615.8 L172.9 618.6 L174.7 615.8 L180.3 615.8 L182.2 618.6 L183.5 616.8 L184.6 630.7 L185.9 645.5 L187.7 656.6 L189.6 660.4 L191.4 658.1 L194.2 661.3 L204.4 661.3 L205.4 634.4 L207.2 627 L208.7 619.5 L210.9 618.6 L212.8 615.8 L214.6 618.6 L216.5 616.2 L218.4 618.6 L221.1 616.2 L223 630.7 L225.4 643.7 L226.7 654.8 L228.6 660.4 L231.3 657.6 L233.6 661.3 L238.8 661.3 L240.6 658.1 L242.5 661.3 L247.1 661.3 L249.9 658.5 L252.1 653.9 L253.6 636.2 L255.5 621.4 L257.3 619.5 L264.7 619.5 L266.6 616.8 L268.5 619.5 L271.2 616.2 L274 619.5 L276.8 616.2 L278.7 613 L281.4 619.2 L284.2 615.8 L287.9 615.8 L288.9 640 L290.3 671.5 L291.6 686.3 L293.5 704.9 L295.4 712.3 L299.1 716 L303.7 716 L305.6 719.7 L314.5 719.7 L318.2 713.2 L318.8 686.3 L319.7 664.1 L320 642.7 L321.9 630.7 L322.5 619.5 L328.4 619.5 L329.9 615.8 L340.5 615.8 L342.3 619.5 L343.6 616.2 L349.4 616.2 L350.7 630.7 L351 645.5 L352.9 667.8 L354 695.6 L355.3 708.6 L357.2 719.4 L359 717 L361.4 719.4 L364.6 717 L367.4 719.4 L370.2 717 L372.9 719.4 L375.2 716 L378.5 712.3 L380.7 704.9 L381.3 677 L382.2 640 L384.1 630.7 L385 619.5 L388.7 619.5 L391.5 615.8 L394.3 619.5 L396.2 616.2 L401.7 616.2 L403.6 619.5 L405.4 645.5 L406 677 L407.3 701.2 L410 716 L412.8 718.8 L413.8 717 L416.5 719.7 L424 719.7 L426.4 723.4 L428.6 719.7 L435.1 719.7 L437 717 L437.5 690 L438.3 656.6 L439.7 640 L440.7 623.2 L442 619.5 L446.8 619.5 L448.6 615.8 L454.2 615.8"/>
<path class="gr" d="M627.8 624.7H996.5"/>
<path class="gr" d="M627.8 664.9H996.5"/>
<path class="gr" d="M627.8 705.7H996.5"/>
<path class="tk" stroke-width="1.6" d="M627.8 625.2h4M627.8 665.4h4M627.8 706.2h4M689 745.9v-4M750.8 745.9v-4M812.3 745.9v-4M873.4 745.9v-4M935 745.9v-4"/>
<rect class="bx" stroke-width="1.6" x="627.8" y="583.7" width="368.7" height="162.2"/>
<path class="ln" stroke="#16169a" stroke-width="1.7" d="M628.4 619.9 L630.8 619.9 L633 624.2 L634.8 619.9 L637.1 619.9 L638.6 624.2 L638.6 643.7 L640 652 L643.8 653 L646.9 657.6 L648.7 656.6 L650.6 652.6 L653 657.6 L662.7 657.6 L664.5 660.7 L666.4 658.5 L667.9 647.4 L668.6 633.5 L671.6 629.2 L673.8 632.5 L676.6 629.2 L684 629.2 L685.9 632.5 L688.7 635.3 L690.5 645.5 L690.9 662.2 L692.4 665 L695.2 661.3 L699.8 661.3 L702.6 665.4 L705.4 664.1 L708.1 660.7 L710 656.6 L710.9 649.2 L712.8 637.2 L714.6 634.4 L716.5 627.9 L718.3 625.5 L720.2 632.9 L729.5 632.9 L731 641.8 L731.7 660.4 L733.6 661.3 L736 662.2 L736.9 665.4 L743.4 665.4 L744.7 661.7 L747.1 665 L753.6 665.4 L755.1 668.7 L756.4 665.6 L758.2 667.8 L760.1 667.8 L760.7 654.8 L762.5 642.7 L764.7 640.9 L767.5 637.2 L769.9 640.9 L772.2 636.6 L777.4 636.6 L778.7 640.9 L782.4 636.6 L784.8 640.9 L786.6 638.1 L788.5 629.7 L791.6 633.5 L795.9 636.6 L797.8 641.8 L799.6 648.3 L800 664.1 L800.9 693.8 L802.8 703 L804.6 710.1 L816.4 710 L818.9 713.8 L829.1 713.8 L829.1 691.9 L830.4 677.5 L830.8 661.1 L832.4 654 L833.2 648.8 L834.9 645.8 L846.8 645.8 L848.2 641.7 L851.3 641.7 L852.9 644.7 L854.3 641.7 L858.4 641.7 L859.9 645.3 L864 645.3 L864 663.2 L865.6 675.5 L865.6 691.9 L867.7 700.1 L868.7 708.3 L870.8 713.8 L874.2 713.8 L875.5 717.5 L892.7 717.5 L894.8 713.4 L894.8 702.2 L896.4 689.8 L897.4 671.4 L898.4 665.2 L898.9 652.9 L900.9 649.2 L918.9 649.2 L920.6 655 L921 681.6 L922.4 691.9 L922.4 702.2 L925.1 712.4 L928.2 717.5 L932.3 722.3 L946 722.3 L949.3 726.4 L952.8 726.4 L954.2 722.3 L955.5 708.3 L956.3 671.4 L957.5 661.1 L960.4 657 L962 652.9 L973.9 652.9"/>
<path class="gr" d="M131 900.3H478.1"/>
<path class="gr" d="M131 945H478.1"/>
<path class="gr" d="M131 989.4H478.1"/>
<path class="tk" stroke-width="1.6" d="M131 900.8h4M131 945.5h4M131 989.9h4M189.4 1035v-4M246.9 1035v-4M304.6 1035v-4M363.1 1035v-4M420.2 1035v-4"/>
<rect class="bx" stroke-width="1.6" x="131" y="856" width="347.1" height="179"/>
<path class="ln" stroke="#16169a" stroke-width="1.7" d="M131.5 914 L134.3 909.6 L138.9 909.6 L141.3 913.7 L143.2 928.5 L143.2 948.9 L144.5 950.4 L148.2 950.8 L149.1 954.1 L150.6 950.8 L152.8 953 L154.7 954.1 L156.2 950.8 L158 954.1 L167.7 954.1 L167.7 943.3 L169.2 934 L169.5 921.1 L171 917.7 L174.2 917.7 L175.5 914.6 L177.9 917.7 L180.7 914 L182.9 914.6 L184.4 917.7 L187.2 914 L189 926.6 L190.9 945.2 L191.8 958.6 L193.3 957.3 L195.5 954.1 L202 954.5 L204.4 958.2 L207.6 952.6 L209.4 949.8 L210.7 919.2 L212.2 911.8 L215.9 905.9 L217.8 913.7 L221.5 914 L223 910 L224.5 914 L225.2 910 L226 914 L228 922.9 L229.3 941.5 L229.8 952.6 L231.7 954.1 L233.6 950.8 L236.3 954.1 L240 950.8 L242.3 954.1 L248.4 954.1 L250.3 950.8 L253 954.1 L255.8 954.1 L255.8 941.5 L257.7 926.6 L259.5 918.3 L262 914 L266 914 L267.9 909.6 L269.8 910.3 L273.1 917.4 L274.9 914 L278.1 914 L280.5 909.6 L284.6 905.9 L287.4 909.6 L292 914.6 L292.9 934.1 L293.9 956.3 L293.9 974.9 L296.1 989.7 L297.6 1004.6 L299.4 1007.4 L303.1 1004.2 L306.8 1006.4 L308.5 1004 L310.6 1011.6 L312.6 1004.2 L315 1005 L316.7 1011.6 L318.6 1007.4 L320.8 1007.4 L321.9 993.4 L322.3 948.9 L323.2 939.5 L323.8 922.9 L325.1 918.3 L328.2 918.3 L329.7 914.6 L339.9 914.6 L341.2 910 L342.6 913.7 L344.5 909.6 L353.8 909.6 L353.8 930.4 L355.1 945.2 L355.1 971.2 L356 988.8 L358.5 995.3 L360.3 1007.4 L363.1 1003.7 L372.4 1003.7 L374.2 1007.4 L378.9 1007.4 L380.2 999 L382.6 998.6 L383.5 984.2 L384.4 945.2 L385.7 935.9 L385.7 919.2 L387.6 914.6 L395 914.6 L396.9 909.6 L404.8 909.6 L407.3 915.5 L407.6 935.9 L409.1 945.2 L409.1 986 L410.4 998.1 L413.2 1002.7 L415.9 1004.3 L417.8 1007.4 L421.5 1003.7 L424.3 1004.3 L426.2 1007.4 L428 1004.3 L429.9 1007.4 L434.5 1007.4 L436.4 1003.7 L438.8 1007.4 L439.5 995.3 L440.1 952.6 L442 937.8 L442 922.9 L443.8 916.4 L446.6 914 L448.5 914 L451.2 909.6 L453.1 909.6 L455.9 914 L458.1 910"/>
<path class="gr" d="M631.5 887.5H1000.4"/>
<path class="gr" d="M631.5 925.2H1000.4"/>
<path class="gr" d="M631.5 963.8H1000.4"/>
<path class="gr" d="M631.5 1001.7H1000.4"/>
<path class="tk" stroke-width="1.6" d="M631.5 888h4M631.5 925.7h4M631.5 964.3h4M631.5 1002.2h4M705.2 1039.8v-4M778.7 1039.8v-4M852.7 1039.8v-4M926.2 1039.8v-4"/>
<rect class="bx" stroke-width="1.6" x="631.5" y="850.1" width="368.9" height="189.7"/>
<path class="ln" stroke="#16169a" stroke-width="1.7" d="M633.4 884.9 L635.2 888 L637.6 887.6 L639.8 884.3 L642.6 884.3 L645 902.5 L646.3 919.2 L648.2 932.2 L650 936.3 L653.8 936.9 L657.5 941.5 L662.1 936.9 L664.9 937.8 L667.7 941.5 L669.9 938.7 L671 922.9 L672.9 901.6 L675.1 898.8 L677.9 895.5 L680.7 899.7 L684 895.5 L689 895.1 L690.9 892.9 L693.7 891 L695.9 893.2 L697.4 915.5 L699.2 928.5 L701.1 935 L704.8 936.9 L708.5 941.1 L719.6 941.1 L721.1 931.3 L723.3 919.2 L726.1 901.6 L728.9 899.2 L732.6 899.2 L735.4 896 L741.9 895.5 L744.7 892.9 L746.5 898.8 L747.5 911.8 L749.3 924.8 L751.2 931.3 L754.9 935.9 L757.1 934.1 L759.5 937.8 L761.9 941.5 L765.1 938.7 L767.5 936.9 L770.7 936.9 L772.5 932.2 L774.4 915.5 L776.2 904.4 L779 900.3 L780.9 899.2 L791.1 899.2 L792.9 896 L797.6 895.5 L798.5 908.1 L799.8 928.5 L799.8 950.8 L801 959.8 L803.1 976.3 L806.2 979.3 L809.8 980 L811.9 986.5 L816.4 986.9 L820.5 991.6 L822.6 988.6 L825 981.4 L825.6 959.8 L826.7 935.2 L827.7 914.7 L830.8 906.9 L836.9 906.9 L839 902.8 L843.1 902.4 L846.1 900 L849.2 897.9 L850.9 899.3 L851.7 912.7 L852.3 937.3 L853.3 947.5 L853.3 966 L855.4 978.3 L859.5 986.5 L862.6 983.4 L865.2 982.8 L868.7 990.2 L872.8 989.6 L874.2 984.5 L875.5 968 L877.5 951.6 L879 935.2 L881 913.7 L886.1 906.9 L894.8 906.9 L896.8 910.2 L899.5 906.9 L901.5 909.6 L903 927 L904.6 959.8 L906.2 982.4 L909.7 992.7 L915.9 1001.9 L920 1002.5 L924.1 1008.7 L927.2 1008.7 L927.6 996.8 L928.8 968 L930.2 949.6 L931.7 939.3 L934.3 936.9 L937 933.6 L949.7 933.6 L952.2 930.1 L954.8 929.7"/>
<circle cx="766.8" cy="145.6" r="0.7" fill="#b8b8b8"/>
<text class="r" font-size="26.248" transform="translate(22.23 24.21) scale(1.0140 1)">(a)</text>
<text class="r" font-size="30.770" transform="translate(510.81 30.55) scale(0.9556 1)">(b)</text>
<text class="r" font-size="27.130" transform="translate(10.54 309.52) scale(1.0604 1)">(c)</text>
<text class="r" font-size="26.689" transform="translate(496.96 308.82) scale(1.0600 1)">(d)</text>
<text class="r" font-size="25.145" transform="translate(12.22 585.35) scale(0.9729 1)">(e)</text>
<text class="r" font-size="25.409" transform="translate(493.12 573.19) scale(1.1490 1)">(f)</text>
<text class="r" font-size="25.504" transform="translate(1.39 851.4) scale(1.0838 1)">(g)</text>
<text class="r" font-size="24.373" transform="translate(517.14 848.91) scale(1.0846 1)">(h)</text>
<text class="s" font-size="28.531" transform="translate(105.94 70.92) scale(0.9961 1)">AuC8</text>
<text class="s" font-size="27.803" transform="translate(593.34 70.33) scale(1.0713 1)">AuEster</text>
<text class="s" font-size="27.683" transform="translate(105.62 342.43)">MixCOOH</text>
<text class="s" font-size="28.053" transform="translate(605.75 344.3) scale(0.9771 1)">MixPT</text>
<text class="s" font-size="28.248" transform="translate(133.25 735.32) scale(0.9844 1)">AuC8</text>
<text class="s" font-size="28.807" transform="translate(637.24 736.12) scale(1.0144 1)">AuEster</text>
<text class="s" font-size="26.977" transform="translate(133.18 1022.54)">MixCOOH</text>
<text class="s" font-size="26.890" transform="translate(636.97 1024.7) scale(1.0100 1)">MixPT</text>
<text class="r" font-size="17.142" transform="translate(58.4 41.35) scale(0.9031 1)">1.2</text>
<text class="r" font-size="17.142" transform="translate(70.09 99.76) scale(0.9031 1)">1</text>
<text class="r" font-size="17.142" transform="translate(58.14 157.68) scale(0.9031 1)">0.8</text>
<text class="r" font-size="17.142" transform="translate(58.01 216.38) scale(0.9031 1)">0.6</text>
<text class="r" font-size="17.819" transform="translate(555.32 42.2) scale(0.9695 1)">0.6</text>
<text class="r" font-size="17.819" transform="translate(546.84 84.8) scale(0.9695 1)">0.45</text>
<text class="r" font-size="17.819" transform="translate(555.48 127.7) scale(0.9695 1)">0.3</text>
<text class="r" font-size="17.819" transform="translate(546.84 170.9) scale(0.9695 1)">0.15</text>
<text class="r" font-size="17.819" transform="translate(568.42 214.24) scale(0.9695 1)">0</text>
<text class="r" font-size="16.390" transform="translate(58.18 320.93) scale(0.9936 1)">0.5</text>
<text class="r" font-size="16.390" transform="translate(57.8 363.93) scale(0.9936 1)">0.4</text>
<text class="r" font-size="16.390" transform="translate(58.18 407.03) scale(0.9936 1)">0.3</text>
<text class="r" font-size="16.390" transform="translate(58.44 449.83) scale(0.9936 1)">0.2</text>
<text class="r" font-size="16.390" transform="translate(58.52 492.93) scale(0.9936 1)">0.1</text>
<text class="r" font-size="13.834" transform="translate(556.17 323.28) scale(1.1359 1)">1.3</text>
<text class="r" font-size="13.834" transform="translate(556.42 366.38) scale(1.1359 1)">1.2</text>
<text class="r" font-size="13.834" transform="translate(556.5 409.87) scale(1.1359 1)">1.1</text>
<text class="r" font-size="13.834" transform="translate(568.29 453.67) scale(1.1359 1)">1</text>
<text class="r" font-size="13.834" transform="translate(556.2 497.6) scale(1.1359 1)">0.9</text>
<text class="r" font-size="14.435" transform="translate(57.79 587.23) scale(0.9567 1)">10005030</text>
<text class="r" font-size="14.435" transform="translate(57.79 628.93) scale(0.9567 1)">10005020</text>
<text class="r" font-size="14.435" transform="translate(57.79 670.83) scale(0.9567 1)">10005010</text>
<text class="r" font-size="14.435" transform="translate(57.79 712.03) scale(0.9567 1)">10005000</text>
<text class="r" font-size="14.435" transform="translate(57.79 753.83) scale(0.9567 1)">10004990</text>
<text class="r" font-size="14.586" transform="translate(554.16 588.48) scale(1.1434 1)">9981250</text>
<text class="r" font-size="14.586" transform="translate(554.16 629.48) scale(1.1434 1)">9981240</text>
<text class="r" font-size="14.586" transform="translate(554.16 669.68) scale(1.1434 1)">9981230</text>
<text class="r" font-size="14.586" transform="translate(554.16 710.48) scale(1.1434 1)">9981220</text>
<text class="r" font-size="14.586" transform="translate(554.16 750.68) scale(1.1434 1)">9981210</text>
<text class="r" font-size="14.886" transform="translate(59.58 860.68) scale(1.0929 1)">9976580</text>
<text class="r" font-size="14.886" transform="translate(59.58 904.98) scale(1.0929 1)">9976570</text>
<text class="r" font-size="14.886" transform="translate(59.58 949.68) scale(1.0929 1)">9976560</text>
<text class="r" font-size="14.886" transform="translate(59.58 994.08) scale(1.0929 1)">9976550</text>
<text class="r" font-size="14.886" transform="translate(59.58 1039.68) scale(1.0929 1)">9976540</text>
<text class="r" font-size="13.683" transform="translate(565.12 854.38) scale(1.0931 1)">9993980</text>
<text class="r" font-size="13.683" transform="translate(565.12 891.78) scale(1.0931 1)">9993970</text>
<text class="r" font-size="13.683" transform="translate(565.12 929.48) scale(1.0931 1)">9993960</text>
<text class="r" font-size="13.683" transform="translate(565.12 968.08) scale(1.0931 1)">9993950</text>
<text class="r" font-size="13.683" transform="translate(565.12 1005.98) scale(1.0931 1)">9993940</text>
<text class="r" font-size="13.683" transform="translate(565.12 1044.08) scale(1.0931 1)">9993930</text>
<text class="r" font-size="15.939" transform="translate(86.05 240.7) scale(0.9672 1)">0</text>
<text class="r" font-size="15.939" transform="translate(169.56 240.7) scale(0.9672 1)">300</text>
<text class="r" font-size="15.939" transform="translate(261.7 240.7) scale(0.9672 1)">600</text>
<text class="r" font-size="15.939" transform="translate(352.88 240.7) scale(0.9672 1)">900</text>
<text class="r" font-size="15.939" transform="translate(440.2 240.7) scale(0.9672 1)">1200</text>
<text class="r" font-size="17.894" transform="translate(587.33 241.8) scale(0.9886 1)">0</text>
<text class="r" font-size="17.894" transform="translate(676.85 241.8) scale(0.9886 1)">300</text>
<text class="r" font-size="17.894" transform="translate(775.69 241.8) scale(0.9886 1)">600</text>
<text class="r" font-size="17.894" transform="translate(872.78 241.8) scale(0.9886 1)">900</text>
<text class="r" font-size="17.894" transform="translate(967.37 241.8) scale(0.9886 1)">1200</text>
<text class="r" font-size="16.691" transform="translate(88.48 518.7) scale(1.0598 1)">0</text>
<text class="r" font-size="16.691" transform="translate(169.95 518.7) scale(1.0598 1)">300</text>
<text class="r" font-size="16.691" transform="translate(260.29 518.7) scale(1.0598 1)">600</text>
<text class="r" font-size="16.691" transform="translate(350.58 518.7) scale(1.0598 1)">900</text>
<text class="r" font-size="16.691" transform="translate(436.77 518.7) scale(1.0598 1)">1200</text>
<text class="r" font-size="15.187" transform="translate(585.92 522.8) scale(1.0756 1)">0</text>
<text class="r" font-size="15.187" transform="translate(710.47 522.8) scale(1.0756 1)">300</text>
<text class="r" font-size="15.187" transform="translate(844.71 522.8) scale(1.0756 1)">600</text>
<text class="r" font-size="15.187" transform="translate(977.8 522.8) scale(1.0756 1)">900</text>
<text class="r" font-size="14.285" transform="translate(121.43 777.2) scale(0.9719 1)">0</text>
<text class="r" font-size="14.285" transform="translate(172.85 777.2) scale(0.9719 1)">200</text>
<text class="r" font-size="14.285" transform="translate(231.12 777.2) scale(0.9719 1)">400</text>
<text class="r" font-size="14.285" transform="translate(290.05 777.2) scale(0.9719 1)">600</text>
<text class="r" font-size="14.285" transform="translate(348.09 777.2) scale(0.9719 1)">800</text>
<text class="r" font-size="14.285" transform="translate(401.97 777.2) scale(0.9719 1)">1000</text>
<text class="r" font-size="14.285" transform="translate(460.37 777.2) scale(0.9719 1)">1200</text>
<text class="r" font-size="14.435" transform="translate(622.88 774.4) scale(1.1424 1)">0</text>
<text class="r" font-size="14.435" transform="translate(676.28 774.4) scale(1.1424 1)">200</text>
<text class="r" font-size="14.435" transform="translate(737.48 774.4) scale(1.1424 1)">400</text>
<text class="r" font-size="14.435" transform="translate(798.79 774.4) scale(1.1424 1)">600</text>
<text class="r" font-size="14.435" transform="translate(860.53 774.4) scale(1.1424 1)">800</text>
<text class="r" font-size="14.435" transform="translate(917.8 774.4) scale(1.1424 1)">1000</text>
<text class="r" font-size="14.435" transform="translate(978.9 774.4) scale(1.1424 1)">1200</text>
<text class="r" font-size="13.984" transform="translate(125.97 1062.9) scale(1.1541 1)">0</text>
<text class="r" font-size="13.984" transform="translate(175.85 1062.9) scale(1.1541 1)">200</text>
<text class="r" font-size="13.984" transform="translate(233.35 1062.9) scale(1.1541 1)">400</text>
<text class="r" font-size="13.984" transform="translate(291.46 1062.9) scale(1.1541 1)">600</text>
<text class="r" font-size="13.984" transform="translate(350.1 1062.9) scale(1.1541 1)">800</text>
<text class="r" font-size="13.984" transform="translate(402.96 1062.9) scale(1.1541 1)">1000</text>
<text class="r" font-size="13.984" transform="translate(460.66 1062.9) scale(1.1541 1)">1200</text>
<text class="r" font-size="14.285" transform="translate(626.74 1065.9) scale(1.0262 1)">0</text>
<text class="r" font-size="14.285" transform="translate(693.86 1065.9) scale(1.0262 1)">200</text>
<text class="r" font-size="14.285" transform="translate(767.14 1065.9) scale(1.0262 1)">400</text>
<text class="r" font-size="14.285" transform="translate(841.27 1065.9) scale(1.0262 1)">600</text>
<text class="r" font-size="14.285" transform="translate(914.51 1065.9) scale(1.0262 1)">800</text>
<text class="r" font-size="14.285" transform="translate(984.98 1065.9) scale(1.0262 1)">1000</text>
<text class="r" font-size="13.786" transform="translate(238.34 263.57) scale(1.1700 1)">time (sec.)</text>
<text class="r" font-size="18.087" transform="translate(749.42 272.75) scale(1.0045 1)">time (sec.)</text>
<text class="r" font-size="14.999" transform="translate(235.93 543.41) scale(1.1905 1)">time (sec.)</text>
<text class="r" font-size="13.675" transform="translate(772.63 545.89) scale(1.2659 1)">time(sec.)</text>
<text class="r" font-size="14.227" transform="translate(270.77 799.57) scale(0.9549 1)">time (sec.)</text>
<text class="r" font-size="14.117" transform="translate(777.34 796.59) scale(1.1646 1)">time (sec.)</text>
<text class="r" font-size="13.896" transform="translate(270.54 1089.24) scale(1.1469 1)">time (sec.)</text>
<text class="r" font-size="13.345" transform="translate(783.35 1090.56) scale(1.1151 1)">time (sec.)</text>
<text class="r" font-size="17.205" transform="translate(38.04 191.99) rotate(-90) scale(0.9720 1)">sensor response (V)</text>
<text class="r" font-size="18.638" transform="translate(528.83 214.7) rotate(-90) scale(1.0441 1)">sensor response (V)</text>
<text class="r" font-size="18.197" transform="translate(38.23 484.42) rotate(-90) scale(0.9631 1)">sensor response (V)</text>
<text class="r" font-size="17.646" transform="translate(540.14 476.29) rotate(-90) scale(0.9558 1)">sensor response(V)</text>
<text class="r" font-size="13.806" transform="translate(46.02 729.45) rotate(-90) scale(1.0559 1)">frequency shift (Hz)</text>
<text class="r" font-size="16.958" transform="translate(540.24 723.15) rotate(-90) scale(0.8670 1)">frequency shift (Hz)</text>
<text class="r" font-size="16.414" transform="translate(46.06 998.35) rotate(-90) scale(0.8891 1)">frequencyhift (Hz)</text>
<text class="r" font-size="15.219" transform="translate(552.62 998.22) rotate(-90) scale(0.8892 1)">frequency shift (Hz)</text>
</svg>
</body></html>
